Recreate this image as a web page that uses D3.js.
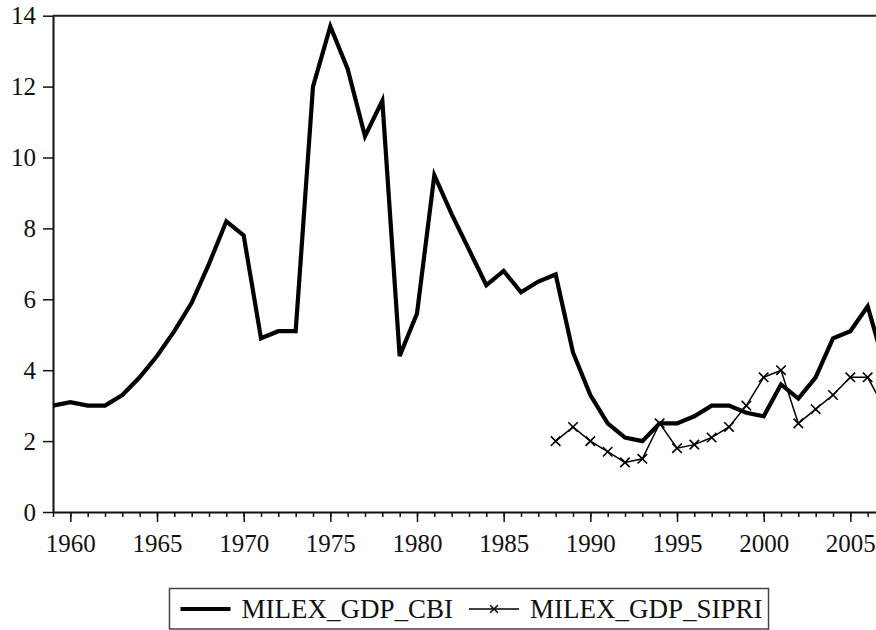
<!DOCTYPE html>
<html>
<head>
<meta charset="utf-8">
<script src="https://cdn.jsdelivr.net/npm/d3@7"></script>
<style>
  html, body { margin: 0; padding: 0; background: #fff; }
  svg { display: block; }
</style>
</head>
<body>
<svg id="chart" width="876" height="630"></svg>
<script>
// data
const cbiYears = d3.range(1959, 2008);
const cbiValues = [3.0, 3.1, 3.0, 3.0, 3.3, 3.8, 4.4, 5.1, 5.9, 7.0,
                   8.2, 7.8, 4.9, 5.1, 5.1, 12.0, 13.7, 12.5, 10.6, 11.6,
                   4.4, 5.6, 9.5, 8.4, 7.4, 6.4, 6.8, 6.2, 6.5, 6.7,
                   4.5, 3.3, 2.5, 2.1, 2.0, 2.5, 2.5, 2.7, 3.0, 3.0,
                   2.8, 2.7, 3.6, 3.2, 3.8, 4.9, 5.1, 5.8, 4.1];
const sipriYears = d3.range(1988, 2008);
const sipriValues = [2.0, 2.4, 2.0, 1.7, 1.4, 1.5, 2.5, 1.8, 1.9, 2.1,
                     2.4, 3.0, 3.8, 4.0, 2.5, 2.9, 3.3, 3.8, 3.8, 2.9];
const yTicks = [0, 2, 4, 6, 8, 10, 12, 14];
const xLabelYears = [1960, 1965, 1970, 1975, 1980, 1985, 1990, 1995, 2000, 2005];
const seriesNames = ["MILEX_GDP_CBI", "MILEX_GDP_SIPRI"];

const serif = "'Liberation Serif', 'Times New Roman', serif";

const svg = d3.select("#chart");
const plotLeft = 53, plotRight = 885, plotTop = 15.7, plotBottom = 512;

const x = d3.scaleLinear().domain([1959, 2007]).range([plotLeft, plotRight]);
const y = d3.scaleLinear().domain([0, 14]).range([plotBottom, plotTop]);

// top frame line
svg.append("line")
    .attr("x1", plotLeft).attr("x2", plotRight)
    .attr("y1", plotTop).attr("y2", plotTop)
    .attr("stroke", "#222").attr("stroke-width", 2);

// y axis
const yAxis = svg.append("g")
    .attr("transform", `translate(${plotLeft},0)`)
    .call(d3.axisLeft(y).tickValues(yTicks).tickSize(10).tickSizeOuter(0).tickPadding(7));
yAxis.attr("font-family", serif).attr("font-size", 25);
yAxis.selectAll("text").attr("fill", "#111");
yAxis.select(".domain").attr("stroke", "#111").attr("stroke-width", 2);
yAxis.selectAll(".tick line").attr("stroke", "#111").attr("stroke-width", 1.5);

// x axis: yearly minor ticks, longer ticks with labels every 5 years
const xMinor = svg.append("g")
    .attr("transform", `translate(0,${plotBottom})`)
    .call(d3.axisBottom(x).tickValues(d3.range(1959, 2008)).tickSize(5).tickFormat("").tickSizeOuter(0));
xMinor.select(".domain").attr("stroke", "#111").attr("stroke-width", 2);
xMinor.selectAll(".tick line").attr("stroke", "#111").attr("stroke-width", 1.5);

const xMajor = svg.append("g")
    .attr("transform", `translate(0,${plotBottom})`)
    .call(d3.axisBottom(x).tickValues(xLabelYears).tickSize(10).tickPadding(12)
        .tickFormat(d3.format("d")).tickSizeOuter(0));
xMajor.attr("font-family", serif).attr("font-size", 25);
xMajor.select(".domain").remove();
xMajor.selectAll(".tick line").attr("stroke", "#111").attr("stroke-width", 1.5);
xMajor.selectAll("text").attr("fill", "#111");

// series
const cbiData = cbiYears.map((yr, i) => ({ year: yr, value: cbiValues[i] }));
const sipriData = sipriYears.map((yr, i) => ({ year: yr, value: sipriValues[i] }));

const line = d3.line().x(d => x(d.year)).y(d => y(d.value));

svg.append("path")
    .datum(sipriData)
    .attr("fill", "none")
    .attr("stroke", "#000")
    .attr("stroke-width", 1.5)
    .attr("d", line);

const cross = d3.symbol().type(d3.symbolX).size(60);
svg.append("g")
    .selectAll("path")
    .data(sipriData)
    .enter().append("path")
    .attr("transform", d => `translate(${x(d.year)},${y(d.value)})`)
    .attr("d", cross)
    .attr("fill", "none")
    .attr("stroke", "#000")
    .attr("stroke-width", 1.6);

svg.append("path")
    .datum(cbiData)
    .attr("fill", "none")
    .attr("stroke", "#000")
    .attr("stroke-width", 4.2)
    .attr("stroke-linejoin", "miter")
    .attr("d", line);

// legend
const legend = svg.append("g")
    .attr("font-family", serif)
    .attr("font-size", 27);
const legendY = 609;
const box = legend.append("rect")
    .attr("fill", "#fff").attr("stroke", "#444").attr("stroke-width", 1.5);

let cx = 0;
// item 1
legend.append("line")
    .attr("x1", cx + 11).attr("x2", cx + 61)
    .attr("y1", legendY).attr("y2", legendY)
    .attr("stroke", "#000").attr("stroke-width", 4.2);
const t1 = legend.append("text")
    .attr("x", cx + 72).attr("y", legendY + 9)
    .attr("fill", "#111")
    .text(seriesNames[0]);
cx = 72 + t1.node().getComputedTextLength() + 16;
// item 2
legend.append("line")
    .attr("x1", cx).attr("x2", cx + 50)
    .attr("y1", legendY).attr("y2", legendY)
    .attr("stroke", "#000").attr("stroke-width", 1.5);
legend.append("path")
    .attr("transform", `translate(${cx + 25},${legendY})`)
    .attr("d", d3.symbol().type(d3.symbolX).size(40))
    .attr("fill", "none").attr("stroke", "#000").attr("stroke-width", 1.4);
const t2 = legend.append("text")
    .attr("x", cx + 61).attr("y", legendY + 9)
    .attr("fill", "#111")
    .text(seriesNames[1]);
const boxW = cx + 61 + t2.node().getComputedTextLength() + 6;
box.attr("x", 0).attr("y", 588.5).attr("width", boxW).attr("height", 40.5);
legend.attr("transform", `translate(${(plotLeft + plotRight) / 2 - boxW / 2},0)`);
</script>
</body>
</html>
